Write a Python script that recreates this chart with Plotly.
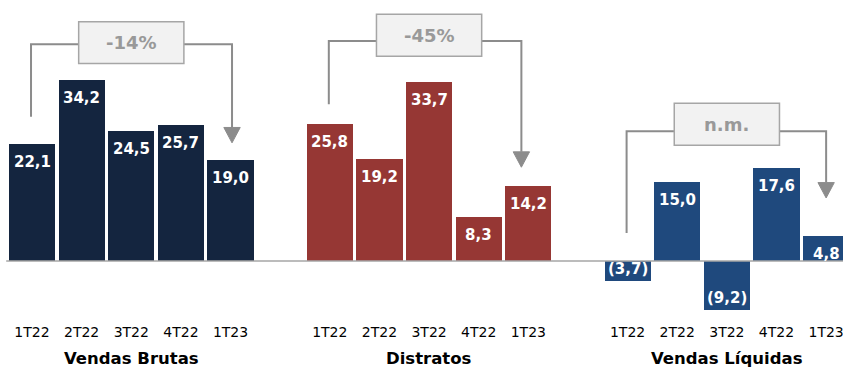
import plotly.graph_objects as go

# ---- data ----
quarters = ["1T22", "2T22", "3T22", "4T22", "1T23"]
groups = ["Vendas Brutas", "Distratos", "Vendas Líquidas"]
vendas_brutas = [22.1, 34.2, 24.5, 25.7, 19.0]
distratos = [25.8, 19.2, 33.7, 8.3, 14.2]
vendas_liquidas = [-3.7, 15.0, -9.2, 17.6, 4.8]
variations = ["-14%", "-45%", "n.m."]

series = [vendas_brutas, distratos, vendas_liquidas]
colors = ["#14253F", "#963734", "#1F497D"]

# decoration layout for the brackets (data units): top, left bottom, arrow tip, box centre y, right x offset
brackets = [
    dict(top=40.9, left_bottom=27.2, tip=22.3, box_y=41.2, right_dx=0.03),
    dict(top=41.5, left_bottom=29.6, tip=17.7, box_y=42.6, right_dx=-0.14),
    dict(top=24.5, left_bottom=5.3, tip=11.9, box_y=25.8, right_dx=0.0),
]

GAP = 6  # slots between group starts
fmt = lambda v: (f"({abs(v):.1f})" if v < 0 else f"{v:.1f}").replace(".", ",")

fig = go.Figure()
tickvals, ticktext = [], []
annotations = []
shapes = []
line_col = "#8C8C8C"

for g, (name, vals, col) in enumerate(zip(groups, series, colors)):
    xs = [g * GAP + i for i in range(len(quarters))]
    tickvals += xs
    ticktext += quarters
    fig.add_trace(go.Bar(x=xs, y=vals, marker=dict(color=col, line=dict(width=0)),
                         width=0.93, showlegend=False, hoverinfo="skip"))
    for x, v in zip(xs, vals):
        annotations.append(dict(x=x, y=v, xref="x", yref="y", text=f"<b>{fmt(v)}</b>",
                                showarrow=False, yanchor="middle",
                                yshift=-18 if v >= 0 else 12,
                                font=dict(family="DejaVu Sans", size=15, color="white")))
    # group title
    annotations.append(dict(x=xs[2], y=-0.12, xref="x", yref="paper", text=f"<b>{name}</b>",
                            showarrow=False, yanchor="middle",
                            font=dict(family="DejaVu Sans", size=16.5, color="black")))
    # bracket
    b = brackets[g]
    xl = xs[0] - 0.02
    xr = xs[-1] + b["right_dx"]
    xc = xs[2]
    hw = 1.06
    head_h, head_w = 2.9, 0.165
    shapes.append(dict(type="path", xref="x", yref="y",
                       path=f"M {xl} {b['left_bottom']} L {xl} {b['top']} L {xc - hw} {b['top']}",
                       line=dict(color=line_col, width=2)))
    shapes.append(dict(type="path", xref="x", yref="y",
                       path=f"M {xc + hw} {b['top']} L {xr} {b['top']} L {xr} {b['tip'] + head_h}",
                       line=dict(color=line_col, width=2)))
    shapes.append(dict(type="path", xref="x", yref="y",
                       path=f"M {xr - head_w} {b['tip'] + head_h} L {xr + head_w} {b['tip'] + head_h} L {xr} {b['tip']} Z",
                       fillcolor=line_col, line=dict(color=line_col, width=1)))
    shapes.append(dict(type="rect", xref="x", yref="y",
                       x0=xc - hw, x1=xc + hw, y0=b["box_y"] - 3.95, y1=b["box_y"] + 3.95,
                       fillcolor="#F2F2F2", line=dict(color="#A6A6A6", width=1.5)))
    annotations.append(dict(x=xc, y=b["box_y"], xref="x", yref="y", text=f"<b>{variations[g]}</b>",
                            showarrow=False, yanchor="middle",
                            font=dict(family="DejaVu Sans", size=18, color="#999999")))

# zero line
shapes.append(dict(type="line", xref="x", yref="y", x0=-0.52, x1=16.5, y0=0, y1=0,
                   line=dict(color="#A6A6A6", width=1.5), layer="above"))

fig.update_layout(
    width=843, height=369,
    margin=dict(l=0, r=0, t=0, b=49),
    paper_bgcolor="white", plot_bgcolor="white",
    bargap=0,
    xaxis=dict(range=[-0.645, 16.34], tickvals=tickvals, ticktext=ticktext,
               showgrid=False, zeroline=False, showline=False, ticks="",
               ticklabelstandoff=2, ticklabeloverflow="allow",
               tickfont=dict(family="DejaVu Sans", size=14, color="black"), fixedrange=True),
    yaxis=dict(range=[-11.13, 49.25], showgrid=False, zeroline=False, showline=False,
               showticklabels=False, fixedrange=True),
    annotations=annotations,
    shapes=shapes,
)

fig.write_html("out.html", config={"displayModeBar": False})
